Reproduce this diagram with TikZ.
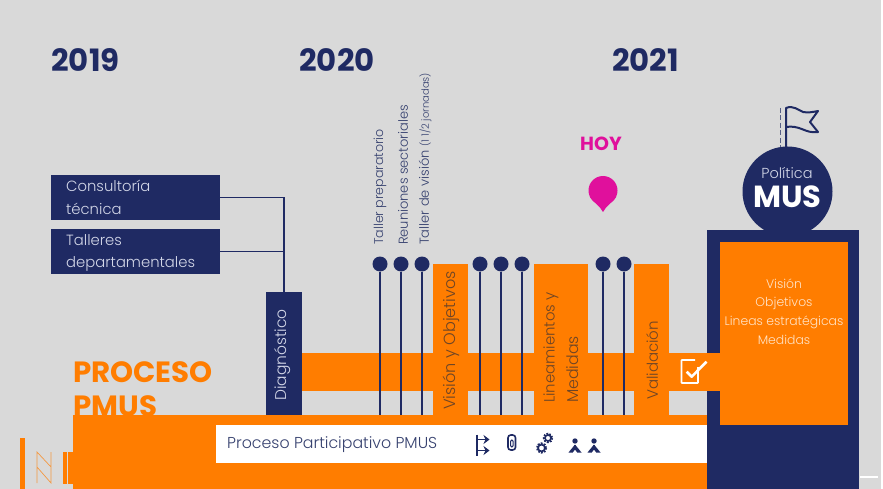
\documentclass[tikz,border=0pt]{standalone}
\usepackage{fontspec}
\setmainfont{Poppins}[UprightFont=* Light,BoldFont=* Bold]
\usetikzlibrary{arrows.meta}
\definecolor{bg}{HTML}{D9D9D9}
\definecolor{navy}{HTML}{1F2A63}
\definecolor{org}{HTML}{FF7D00}
\definecolor{txtnavy}{HTML}{36416F}
\definecolor{txtorg}{HTML}{6E4526}
\definecolor{lite}{HTML}{D3D7E8}
\definecolor{mag}{HTML}{E0109C}
\newcommand{\fs}[1]{\fontsize{#1}{#1}\selectfont}
\tikzset{
 year/.style={text=navy,font=\fs{30.8}\bfseries,inner sep=0pt},
 navybox/.style={fill=navy,draw=none,inner sep=0pt},
 sidetext/.style={text=lite,font=\fs{14.8},inner sep=0pt,anchor=west},
 vtext/.style={text=txtnavy,font=\fs{13},rotate=90,anchor=west,inner sep=0pt},
 phasetext/.style={text=txtorg,rotate=90,anchor=west,inner sep=0pt},
 dot/.style={circle,fill=navy,minimum size=15pt,inner sep=0pt},
 stem/.style={draw=navy,line width=1.4pt},
 conn/.style={draw=navy,line width=1.3pt},
 listt/.style={text=orange!22!white,font=\fs{12.4},inner sep=0pt},
 icon/.style={draw=navy,line width=1.3pt},
 headline/.style={text=org,font=\fs{29.3}\bfseries,anchor=base west,inner sep=0pt}
}
\begin{document}
\begin{tikzpicture}[x=1pt,y=-1pt]
\useasboundingbox (0,0) rectangle (883,489);
\fill[bg] (0,0) rectangle (883,489);
\fill[white] (881,0) rectangle (883,489);
\fill[white] (860,476) rectangle (878,478);
% years
\node[year] (y19) at (85.5,60) {2019};
\node[year] (y20) at (337,60) {2020};
\node[year] (y21) at (645.5,60) {2021};
% orange heading
\node[headline] (pro) at (73,382) {PROCESO};
\node[headline] (pmus) at (73,416) {PMUS};
% left decor
\fill[org] (20,438) rectangle (25,489);
\draw[org!70!bg,line width=0.7pt] (37,483) -- (37,452) -- (51,467) (37,467) -- (51,483) -- (51,452);
\fill[org] (63,452) rectangle (66.5,484);
\fill[org] (68,452) rectangle (73,484);
% side boxes
\node[navybox,minimum width=169pt,minimum height=45pt] (b1) at (135.5,197.5) {};
\node[navybox,minimum width=169pt,minimum height=45pt] (b2) at (135.5,251.5) {};
\node[sidetext] (t1a) at (66,186) {Consultoría};
\node[sidetext] (t1b) at (66,209) {técnica};
\node[sidetext] (t2a) at (66,240) {Talleres};
\node[sidetext] (t2b) at (66,264) {departamentales};
% bands
\fill[org] (302,352.5) rectangle (725,390.5);
\fill[org] (73,415) rectangle (707,489);
\fill[white] (216,425) rectangle (707,463);
\fill[org] (433,264) rectangle (468,415);
\fill[org] (534,264) rectangle (588,415);
\fill[org] (634,264) rectangle (669,415);
% diagnostico
\node[navybox,minimum width=36pt,minimum height=123pt] (diag) at (284,353.5) {};
\node[text=lite,font=\fs{15.5},rotate=90,inner sep=0pt] (diagt) at (283,355) {Diagnóstico};
\draw[conn] (b1.east) -| (diag.north);
\draw[conn] (b2.east) -- (diag.north |- b2.east);
% stems
\foreach \n/\x in {a/380,b/401,c/422,d/480,e/501,f/522,g/603,h/624}{
  \node[dot] (dot\n) at (\x,264) {};
  \coordinate (end\n) at (\x,415);
  \draw[stem] (dot\n) -- (end\n);
}
% vertical labels
\node[vtext,font=\fs{12.6}] (v1) at (380,245) {Taller preparatorio};
\node[vtext] (v2) at (403,245) {Reuniones sectoriales};
\node[vtext] (v3) at (425,245) {Taller de visión {\fs{10}(1 1/2 jornadas)}};
\node[phasetext,font=\fs{16.1}] (p1) at (451,410) {Visión y Objetivos};
\node[phasetext,font=\fs{14.9}] (p2) at (551,403) {Lineamientos y};
\node[phasetext,font=\fs{15.8}] (p3) at (573,403) {Medidas};
\node[phasetext,font=\fs{15}] (p4) at (652,400) {Validación};
% participativo
\node[text=txtnavy,font=\fs{15.8},anchor=west,inner sep=0pt] (pp) at (227,445) {Proceso Participativo PMUS};
% icons
\draw[icon] (477,434.5) -- (477,455.5);
\draw[icon,-{Stealth[length=6pt,width=9pt]}] (477,439.5) -- (489.5,439.5);
\draw[icon,-{Stealth[length=6pt,width=9pt]}] (477,450.5) -- (489.5,450.5);
\draw[icon,line width=1.6pt,rounded corners=2.8pt] (508,450) rectangle (515.5,435);
\draw[icon,line width=1pt,rounded corners=1.2pt] (510.6,447) rectangle (513,440);
\foreach \x/\y/\r in {548/438/4,541.5/448/4.4}{
  \draw[navy,line width=2.4pt,dash pattern=on 1.6pt off 1.2pt] (\x,\y) circle (\r);
  \draw[navy,line width=1.6pt] (\x,\y) circle (\r-1);
}
\foreach \x in {575,594}{
  \fill[navy] (\x,441) circle (2.7);
  \fill[navy] (\x,444.5) -- (\x+6.5,452.5) -- (\x+2.2,452.5) -- (\x,449.5) -- (\x-2.2,452.5) -- (\x-6.5,452.5) -- cycle;
  \fill[navy] (\x-1.2,444.5) rectangle (\x+1.2,450);
}
% HOY and pin
\node[text=mag,font=\fs{19}\bfseries,inner sep=0pt] (hoy) at (601,144) {HOY};
\fill[mag] (603,190.5) circle (14.5);
\fill[mag] (603,212) .. controls (600,206) and (594,203) .. (590,197) -- (616,197) .. controls (612,203) and (606,206) .. (603,212) -- cycle;
% right column
\fill[navy] (707,230) rectangle (859,489);
\fill[org] (720,242) rectangle (848,425);
\fill[org] (669,352.5) rectangle (725,390.5);
\node[circle,fill=navy,minimum size=90pt,inner sep=0pt] (pol) at (787.5,191.5) {};
\node[text=lite,font=\fs{14.5},inner sep=0pt] (polt) at (787,173) {Política};
\node[text=white,font=\fs{30.5}\bfseries,inner sep=0pt] (must) at (787.5,197) {MUS};
\node[listt] (l1) at (784,284) {Visión};
\node[listt] (l2) at (784,303) {Objetivos};
\node[listt] (l3) at (784,322) {Lineas estratégicas};
\node[listt] (l4) at (784,340) {Medidas};
% flag
\draw[navy,line width=2pt,line join=round] (786,147) -- (786,108) .. controls (793,105) and (798,110) .. (803,112) .. controls (808,113) and (813,112) .. (818,111) -- (810,122) -- (818,132) .. controls (811,133) and (807,131) .. (803,129.5) .. controls (797,127) and (792,126) .. (786,127);
\draw[navy!70!bg,line width=1pt,dash pattern=on 5pt off 2.5pt] (780,108) -- (780,147);
% check
\draw[white,line width=1.8pt,rounded corners=.6pt] (698,367) -- (698,383) -- (681.5,383) -- (681.5,360) -- (695,360);
\draw[white,line width=2.6pt,line join=round] (686.7,371.7) -- (691.7,376.7) -- (706.5,361.7);
\end{tikzpicture}
\end{document}
